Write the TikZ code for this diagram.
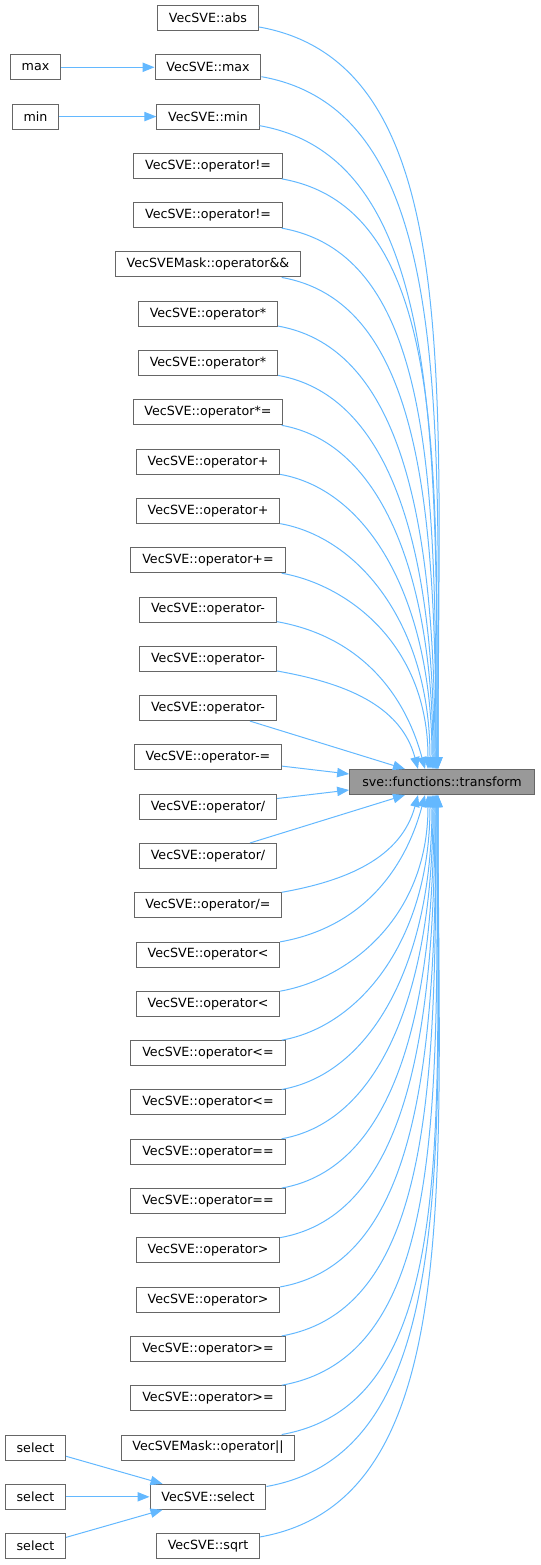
\documentclass[tikz,border=0pt]{standalone}
\usepackage{fontspec}
\setmainfont{DejaVu Sans}
\usetikzlibrary{positioning,calc,arrows.meta}

\definecolor{edgeblue}{HTML}{63B8FF}
\definecolor{boxgray}{HTML}{666666}
\definecolor{hitgray}{HTML}{999999}

\begin{document}
\begin{tikzpicture}[x=0.75pt,y=-0.75pt,->,>={Triangle[length=9pt,width=7pt]},node distance=36.97pt,
  every node/.style={draw=boxgray,fill=white,line width=0.75pt,minimum height=18.75pt,inner xsep=8.5pt,inner ysep=0pt,font=\fontsize{9.5}{11}\selectfont},
  every edge/.style={draw=edgeblue,line width=0.75pt},
  fan up/.style={out=-10,in=90,out looseness=.7,in looseness=1.3},
  fan down/.style={out=10,in=-90,out looseness=.7,in looseness=1.3},
  near up/.style={out=-10,in=105},
  near down/.style={out=10,in=-105}]
\useasboundingbox (0,0) rectangle (541,1565);

\node (abs) at (208,18) {VecSVE::abs};
\node (vmax) [below of=abs] {VecSVE::max};
\node (vmin) [below of=vmax] {VecSVE::min};
\node (neq1) [below of=vmin] {VecSVE::operator!=};
\node (neq2) [below of=neq1] {VecSVE::operator!=};
\node (land) [below of=neq2] {VecSVEMask::operator\&\&};
\node (mul1) [below of=land] {VecSVE::operator*};
\node (mul2) [below of=mul1] {VecSVE::operator*};
\node (mulset) [below of=mul2] {VecSVE::operator*=};
\node (add1) [below of=mulset] {VecSVE::operator+};
\node (add2) [below of=add1] {VecSVE::operator+};
\node (addset) [below of=add2] {VecSVE::operator+=};
\node (sub1) [below of=addset] {VecSVE::operator-};
\node (sub2) [below of=sub1] {VecSVE::operator-};
\node (sub3) [below of=sub2] {VecSVE::operator-};
\node (subset) [below of=sub3] {VecSVE::operator-=};
\node (div1) [below of=subset] {VecSVE::operator/};
\node (div2) [below of=div1] {VecSVE::operator/};
\node (divset) [below of=div2] {VecSVE::operator/=};
\node (lt1) [below of=divset] {VecSVE::operator<};
\node (lt2) [below of=lt1] {VecSVE::operator<};
\node (le1) [below of=lt2] {VecSVE::operator<=};
\node (le2) [below of=le1] {VecSVE::operator<=};
\node (eq1) [below of=le2] {VecSVE::operator==};
\node (eq2) [below of=eq1] {VecSVE::operator==};
\node (gt1) [below of=eq2] {VecSVE::operator>};
\node (gt2) [below of=gt1] {VecSVE::operator>};
\node (ge1) [below of=gt2] {VecSVE::operator>=};
\node (ge2) [below of=ge1] {VecSVE::operator>=};
\node (lor) [below of=ge2] {VecSVEMask::operator||};
\node (vsel) [below of=lor] {VecSVE::select};
\node (vsqrt) [below of=vsel] {VecSVE::sqrt};

\node (max) [left of=vmax, node distance=129.4pt] {max};
\node (min) [left of=vmin, node distance=129.4pt] {min};
\node (sel1) [left of=lor, node distance=129.4pt] {select};
\node (sel2) [left of=vsel, node distance=129.4pt] {select};
\node (sel3) [left of=vsqrt, node distance=129.4pt] {select};

\node (tf) [fill=hitgray, inner xsep=9.5pt] at (442,782) {sve::functions::transform};

\path (max) edge (vmax);
\path (min) edge (vmin);
\path (sel1) edge (vsel);
\path (sel2) edge (vsel);
\path (sel3) edge (vsel);

% callers above the target
\path (abs) edge[fan up] ($(tf.north)+(-4,0)$);
\path (vmax) edge[fan up] ($(tf.north)+(-4,0)$);
\path (vmin) edge[fan up] ($(tf.north)+(-5,0)$);
\path (neq1) edge[fan up] ($(tf.north)+(-5,0)$);
\path (neq2) edge[fan up] ($(tf.north)+(-6,0)$);
\path (land) edge[fan up] ($(tf.north)+(-6,0)$);
\path (mul1) edge[fan up] ($(tf.north)+(-7,0)$);
\path (mul2) edge[fan up] ($(tf.north)+(-8,0)$);
\path (mulset) edge[fan up] ($(tf.north)+(-9,0)$);
\path (add1) edge[fan up] ($(tf.north)+(-10,0)$);
\path (add2) edge[fan up] ($(tf.north)+(-12,0)$);
\path (addset) edge[fan up] ($(tf.north)+(-14,0)$);
\path (sub1) edge[near up] ($(tf.north)+(-17,0)$);
\path (sub2) edge[near up] ($(tf.north)+(-24,0)$);
\path (sub3) edge ($(tf.north)+(-37,0)$);
\path (subset) edge ($(tf.west)+(0,-8)$);

% callers below the target
\path (div1) edge ($(tf.west)+(0,8)$);
\path (div2) edge ($(tf.south)+(-37,0)$);
\path (divset) edge[near down] ($(tf.south)+(-24,0)$);
\path (lt1) edge[near down] ($(tf.south)+(-17,0)$);
\path (lt2) edge[fan down] ($(tf.south)+(-14,0)$);
\path (le1) edge[fan down] ($(tf.south)+(-12,0)$);
\path (le2) edge[fan down] ($(tf.south)+(-10,0)$);
\path (eq1) edge[fan down] ($(tf.south)+(-9,0)$);
\path (eq2) edge[fan down] ($(tf.south)+(-8,0)$);
\path (gt1) edge[fan down] ($(tf.south)+(-7,0)$);
\path (gt2) edge[fan down] ($(tf.south)+(-6,0)$);
\path (ge1) edge[fan down] ($(tf.south)+(-6,0)$);
\path (ge2) edge[fan down] ($(tf.south)+(-5,0)$);
\path (lor) edge[fan down] ($(tf.south)+(-5,0)$);
\path (vsel) edge[fan down] ($(tf.south)+(-4,0)$);
\path (vsqrt) edge[fan down] ($(tf.south)+(-4,0)$);
\end{tikzpicture}
\end{document}
